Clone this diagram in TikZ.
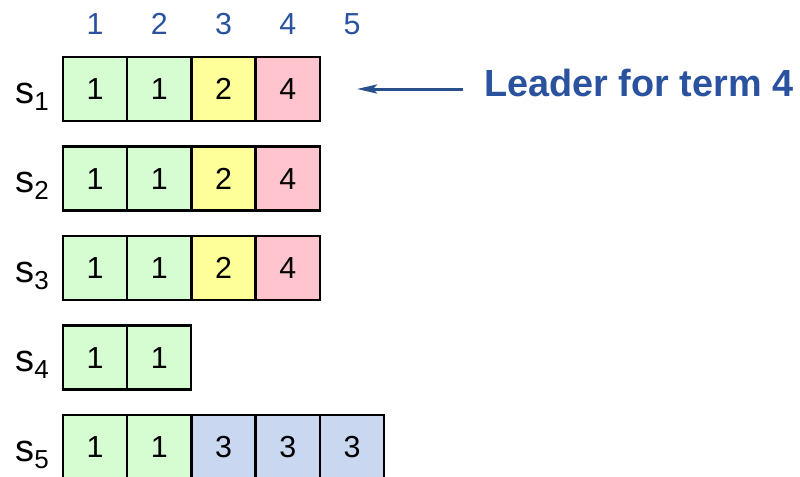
\documentclass[tikz,border=0pt]{standalone}
\usepackage{fontspec}
\setmainfont{Liberation Sans}
\usetikzlibrary{arrows.meta}
\definecolor{cgreen}{RGB}{214,252,210}
\definecolor{cyellow}{RGB}{255,255,153}
\definecolor{cpink}{RGB}{255,196,206}
\definecolor{cblue}{RGB}{201,216,240}
\definecolor{lblue}{RGB}{42,82,158}
\definecolor{ablue}{RGB}{40,80,140}
\tikzset{
  cell/.style={draw=black, line width=1.2pt, minimum width=32pt, minimum height=32pt, inner sep=0pt, outer sep=0pt, anchor=north west},
  val/.style={font=\fontsize{15.2}{17}\selectfont, anchor=base},
  colnum/.style={font=\fontsize{15.2}{17}\selectfont, text=lblue, anchor=base},
  slab/.style={font=\fontsize{19}{21}\selectfont, anchor=base west, inner sep=0pt},
  leadtxt/.style={font=\fontsize{18.9}{22}\bfseries\selectfont, text=lblue, anchor=base west, inner sep=0pt},
  leadarrow/.style={draw=ablue, line width=1.5pt, -{Stealth[length=10pt, width=4.5pt, inset=2pt]}}
}
\newcommand{\sub}[1]{\raisebox{-3.5pt}{\fontsize{13}{14}\selectfont #1}}
\begin{document}
\begin{tikzpicture}[x=0.5pt, y=-0.5pt]
\useasboundingbox (0,0) rectangle (800,477);
% column numbers
\foreach \i in {1,...,5} {
  \node[colnum] (col\i) at ({63+64.25*(\i-1)+32}, 34) {\i};
}
% rows
\foreach \r/\cols in {1/{1/cgreen/1,2/cgreen/1,3/cyellow/2,4/cpink/4},
                      2/{1/cgreen/1,2/cgreen/1,3/cyellow/2,4/cpink/4},
                      3/{1/cgreen/1,2/cgreen/1,3/cyellow/2,4/cpink/4},
                      4/{1/cgreen/1,2/cgreen/1},
                      5/{1/cgreen/1,2/cgreen/1,3/cblue/3,4/cblue/3,5/cblue/3}} {
  \node[slab] (s\r) at (15, {57+89.5*(\r-1)+46}) {s\sub{\r}};
  \foreach \c/\col/\v in \cols {
    \node[cell, fill=\col] (r\r c\c) at ({63+64.25*(\c-1)}, {57+89.5*(\r-1)}) {};
    \node[val] (v\r c\c) at ({63+64.25*(\c-1)+32}, {57+89.5*(\r-1)+42.5}) {\v};
  }
}
% leader
\node[leadtxt] (leader) at (484, 96) {Leader for term 4};
\coordinate (astart) at (463, 89);
\coordinate (aend) at (357, 89);
\draw[leadarrow] (astart) -- (aend);
\end{tikzpicture}
\end{document}
